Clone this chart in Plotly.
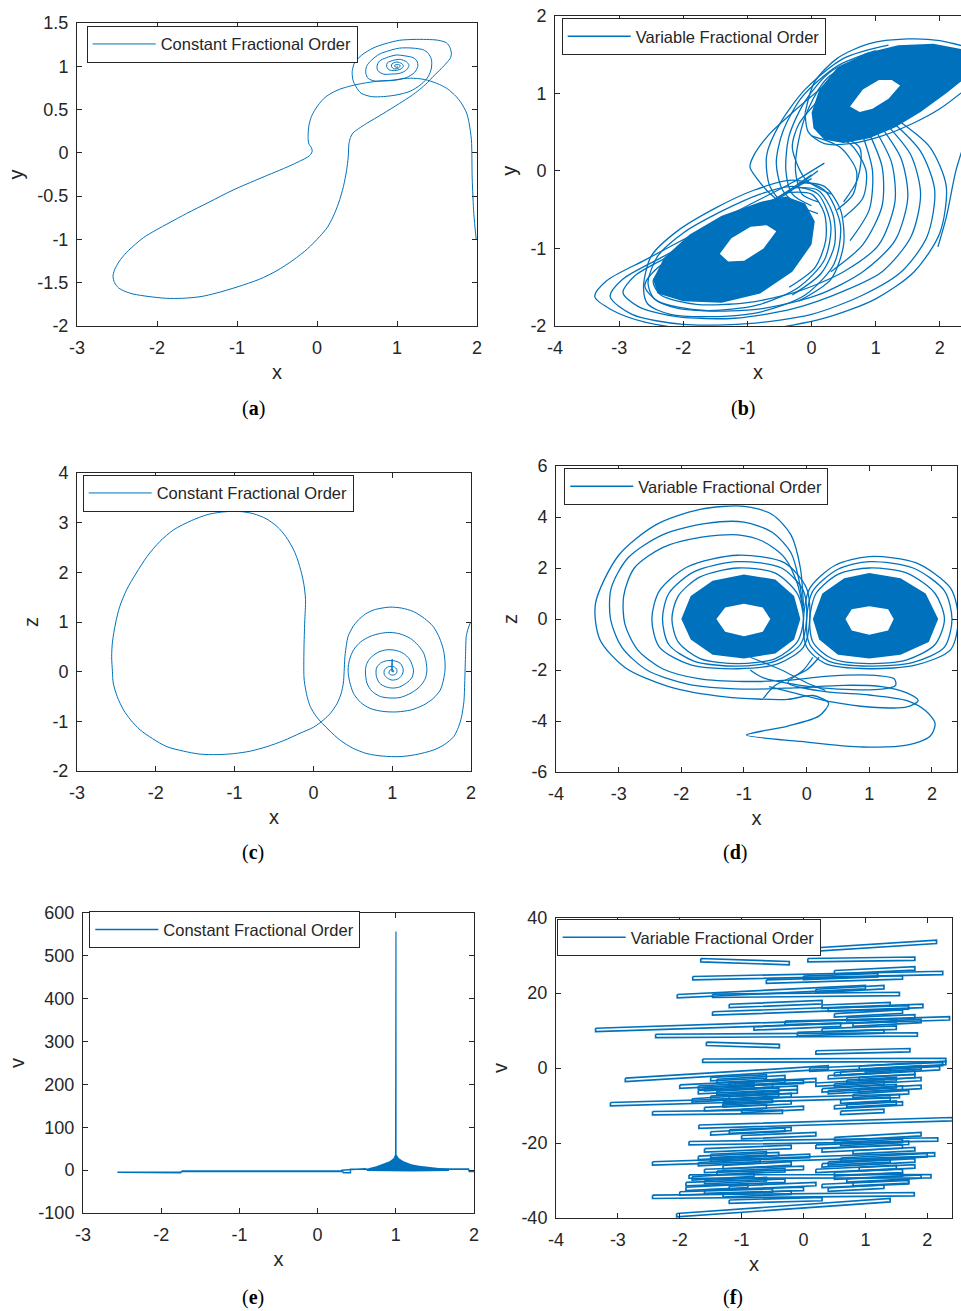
import plotly.graph_objects as go

BLUE = "rgb(0,114,189)"
INK = "#262626"
FONT = "Liberation Sans, Arial, sans-serif"

# ---------------- (a) constant order : x - y ----------------
a_x = [1.99, 1.96, 1.94, 1.93, 1.90, 1.87, 1.80, 1.74, 1.63, 1.53, 1.38, 1.24, 1.10, 0.95, 0.78, 0.62, 0.50, 0.41,
       0.30, 0.20, 0.10, 0.03, -0.03, -0.07, -0.10, -0.11, -0.11, -0.10, -0.07, -0.06, -0.08, -0.12, -0.34, -0.70,
       -1.05, -1.35, -1.63, -1.85, -2.01, -2.17, -2.30, -2.40, -2.47, -2.53, -2.55, -2.53, -2.48, -2.40, -2.30,
       -2.10, -1.88, -1.68, -1.45, -1.26, -1.00, -0.72, -0.50, -0.30, -0.12, 0.03, 0.13, 0.20, 0.27, 0.33, 0.37,
       0.39, 0.40, 0.42, 0.45, 0.52, 0.62, 0.82, 1.03, 1.18, 1.28, 1.38, 1.45, 1.55, 1.62, 1.67, 1.68, 1.66, 1.62,
       1.52, 1.37, 1.20, 1.03, 0.85, 0.70, 0.56, 0.47, 0.44, 0.45, 0.49, 0.55, 0.68, 0.83, 1.00, 1.16, 1.30, 1.39,
       1.43, 1.43, 1.39, 1.33, 1.20, 1.03, 0.90, 0.78, 0.68, 0.62, 0.61, 0.64, 0.72, 0.83, 0.98, 1.12, 1.22, 1.26,
       1.25, 1.20, 1.10, 0.99, 0.87, 0.78, 0.75, 0.76, 0.83, 0.93, 1.04, 1.12, 1.15, 1.12, 1.04, 0.96, 0.88, 0.87,
       0.90, 0.97, 1.05, 1.08, 1.06, 1.00, 0.94, 0.93, 0.96, 1.02, 1.04, 1.01, 0.97, 0.98, 1.01, 1.00]
a_y = [-1.00, -0.70, -0.30, 0.15, 0.35, 0.46, 0.58, 0.65, 0.74, 0.79, 0.84, 0.86, 0.86, 0.84, 0.83, 0.81, 0.79, 0.77,
       0.74, 0.70, 0.64, 0.57, 0.49, 0.42, 0.32, 0.23, 0.15, 0.10, 0.06, 0.02, -0.02, -0.05, -0.15, -0.29,
       -0.43, -0.57, -0.70, -0.81, -0.89, -0.98, -1.08, -1.17, -1.25, -1.35, -1.43, -1.50, -1.56, -1.60, -1.63,
       -1.66, -1.68, -1.68, -1.66, -1.62, -1.55, -1.46, -1.36, -1.24, -1.11, -0.97, -0.86, -0.74, -0.58, -0.39, -0.20,
       -0.05, 0.11, 0.18, 0.23, 0.28, 0.34, 0.45, 0.57, 0.66, 0.73, 0.81, 0.88, 0.97, 1.04, 1.10, 1.15, 1.22, 1.27,
       1.30, 1.31, 1.31, 1.30, 1.26, 1.21, 1.13, 1.04, 0.94, 0.84, 0.76, 0.69, 0.65, 0.65, 0.67, 0.71, 0.79, 0.88,
       0.98, 1.08, 1.15, 1.19, 1.21, 1.21, 1.18, 1.14, 1.07, 1.00, 0.92, 0.86, 0.83, 0.83, 0.84, 0.87, 0.93, 1.00,
       1.06, 1.10, 1.12, 1.13, 1.10, 1.06, 1.00, 0.95, 0.91, 0.91, 0.92, 0.96, 1.01, 1.05, 1.08, 1.07, 1.04, 1.00,
       0.96, 0.95, 0.97, 1.00, 1.03, 1.05, 1.03, 1.00, 0.97, 0.98, 1.01, 1.02, 1.01, 0.99, 0.99, 1.00]

# ---------------- (c) constant order : x - z ----------------
c_x = [1.99, 1.96, 1.94, 1.93, 1.92, 1.91, 1.88, 1.84, 1.78, 1.66, 1.52, 1.30, 1.10, 0.88, 0.68, 0.50, 0.34, 0.20,
       0.04, -0.04, -0.08, -0.11, -0.12, -0.12, -0.11, -0.10, -0.12, -0.15, -0.20, -0.25, -0.35, -0.46, -0.60,
       -0.76, -0.90, -1.01, -1.18, -1.35, -1.55, -1.77, -1.95, -2.11, -2.25, -2.37, -2.46, -2.51, -2.55, -2.56,
       -2.55, -2.54, -2.49, -2.41, -2.32, -2.20, -2.04, -1.86, -1.65, -1.44, -1.22, -1.01, -0.80, -0.59, -0.38,
       -0.17, 0.00, 0.13, 0.22, 0.30, 0.35, 0.38, 0.39, 0.40, 0.42, 0.44, 0.50, 0.57, 0.66, 0.76, 0.87, 0.97, 1.12,
       1.27, 1.41, 1.52, 1.60, 1.65, 1.67, 1.67, 1.65, 1.61, 1.52, 1.40, 1.24, 1.06, 0.88, 0.72, 0.60, 0.51, 0.46,
       0.44, 0.46, 0.51, 0.60, 0.72, 0.85, 0.97, 1.10, 1.23, 1.33, 1.40, 1.43, 1.44, 1.42, 1.35, 1.24, 1.10, 0.97,
       0.85, 0.74, 0.68, 0.66, 0.68, 0.72, 0.82, 0.93, 1.04, 1.14, 1.22, 1.27, 1.25, 1.18, 1.09, 1.00, 0.91, 0.84,
       0.80, 0.80, 0.85, 0.93, 1.02, 1.10, 1.14, 1.13, 1.08, 1.00, 0.94, 0.90, 0.90, 0.95, 1.02, 1.06, 1.05, 1.00,
       0.96, 0.97, 1.01, 1.02, 1.00, 1.00, 1.00]
c_z = [0.98, 0.85, 0.71, 0.30, -0.23, -0.60, -0.91, -1.12, -1.31, -1.47, -1.58, -1.67, -1.71, -1.70, -1.65, -1.54,
       -1.38, -1.18, -0.91, -0.70, -0.50, -0.25, -0.10, 0.44, 1.00, 1.45, 1.75, 1.98, 2.25, 2.45, 2.72, 2.92, 3.08,
       3.18, 3.22, 3.23, 3.21, 3.16, 3.04, 2.86, 2.62, 2.32, 1.98, 1.65, 1.30, 0.98, 0.60, 0.30,
       0.00, -0.23, -0.50, -0.77, -0.97, -1.17, -1.35, -1.51, -1.60, -1.66, -1.67, -1.65, -1.60, -1.51, -1.39,
       -1.24, -1.12, -0.97, -0.83, -0.64, -0.45, -0.23, 0.00, 0.30, 0.55, 0.71, 0.90, 1.04, 1.16, 1.24, 1.28, 1.30,
       1.28, 1.21, 1.07, 0.91, 0.68, 0.44, 0.20, 0.03, -0.17, -0.37, -0.54, -0.67, -0.77, -0.81, -0.80, -0.74,
       -0.62, -0.44, -0.20, 0.03, 0.25, 0.44, 0.60, 0.71, 0.77, 0.79, 0.76, 0.67, 0.53, 0.37, 0.20, 0.03, -0.14,
       -0.30, -0.43, -0.52, -0.53, -0.50, -0.39, -0.23, 0.03, 0.17, 0.27, 0.39, 0.44, 0.43, 0.37, 0.25, 0.03,
       -0.12, -0.23, -0.31, -0.33, -0.30, -0.23, -0.10, 0.07, 0.17, 0.22, 0.22, 0.17, 0.05, -0.05, -0.14, -0.17,
       -0.13, -0.06, 0.03, 0.10, 0.10, 0.04, -0.04, -0.07, -0.04, 0.03, 0.04, 0.00, 0.00, 0.25, 0.00]

# ---------------- (e) constant order : x - v ----------------
e_x = [2.00, 1.94, 1.93, 1.66, 1.30, 0.90, 0.60, 0.42, 0.42, 0.33, 0.32, -1.00, -1.74, -1.75, -2.55, -2.56,
       -1.75, -1.73, -0.50, 0.30, 0.31, 0.42, 0.44, 0.62]
e_v = [-3, -3, 2.5, 2.5, 3, 3, 2.5, 2, -6, -6, -3, -3, -3, -6, -6, -5,
       -4.5, -2, -2, -2, 0, 0, 1.5, 3]
e_band_x = [0.62, 0.66, 0.75, 0.85, 0.92, 0.97, 0.99, 1.01, 1.04, 1.10, 1.20, 1.30, 1.42, 1.55, 1.68, 1.68, 1.20, 0.62]
e_band_v = [-2, 5, 9, 15, 21, 28, 36, 36, 28, 21, 14, 10, 7, 5, 3, -2, -3, -2]
e_spike_x = [0.997, 0.998, 1.002, 1.003]
e_spike_v = [30, 557, 557, 30]

# ---------------- (b) variable order : x - y ----------------
b_up_outer_x = [0.00, 0.12, 0.40, 0.85, 1.35, 1.90, 2.40, 2.40, 2.10, 1.70, 1.30, 0.90, 0.50, 0.20, 0.03]
b_up_outer_y = [0.75, 1.05, 1.33, 1.52, 1.62, 1.64, 1.56, 1.20, 1.00, 0.76, 0.56, 0.42, 0.36, 0.40, 0.55]
b_up_hole_x = [1.38, 1.25, 1.05, 0.80, 0.60, 0.75, 0.95, 1.20]
b_up_hole_y = [1.10, 1.17, 1.17, 1.05, 0.83, 0.76, 0.80, 0.93]
b_lo_outer_x = [-2.47, -2.30, -1.90, -1.40, -0.80, -0.40, -0.10, 0.05, 0.00, -0.30, -0.80, -1.40, -2.00, -2.40]
b_lo_outer_y = [-1.40, -1.12, -0.82, -0.58, -0.40, -0.33, -0.42, -0.65, -0.95, -1.30, -1.58, -1.70, -1.68, -1.58]
b_lo_hole_x = [-0.55, -0.70, -0.95, -1.25, -1.43, -1.30, -1.05, -0.75]
b_lo_hole_y = [-0.78, -0.70, -0.72, -0.87, -1.07, -1.17, -1.16, -1.00]
b_paths_x = [
    [1.97, 2.10, 2.25, 2.40],
    [1.40, 1.85, 2.10, 2.00, 1.60, 1.00, 0.20, -0.80, -1.80, -2.60, -3.10, -3.38, -3.20, -2.60, -1.80, -1.00, -0.30, 0.20],
    [1.30, 1.70, 1.92, 1.80, 1.40, 0.80, 0.00, -1.00, -2.00, -2.80, -3.14, -2.95, -2.30, -1.50, -0.70, 0.00],
    [1.20, 1.55, 1.70, 1.55, 1.10, 0.50, -0.30, -1.20, -2.10, -2.70, -2.94, -2.75, -2.10, -1.40, -0.60, 0.00],
    [1.10, 1.40, 1.50, 1.30, 0.80, 0.10, -0.80, -1.70, -2.40, -2.60, -2.40, -1.80, -1.10, -0.40, 0.10],
    [1.00, 1.25, 1.30, 1.05, 0.50, -0.20, -1.00, -1.80, -2.35, -2.47, -2.25],
    [0.90, 1.10, 1.10, 0.80, 0.30],
    [0.80, 0.95, 0.90, 0.60],
    [1.20, 0.50, -0.10, -0.50, -0.70, -0.65, -0.40, -0.10],
    [1.00, 0.40, -0.15, -0.45, -0.55, -0.45, -0.20, 0.10],
    [0.90, 0.30, -0.10, -0.35, -0.40, -0.30, 0.00],
    [0.80, 0.25, -0.05, -0.20, -0.25, -0.15, 0.10],
    [0.20, -0.30, -0.65, -0.90, -0.96, -0.85, -0.70, -0.50],
    [0.50, 0.10, -0.20, -0.30, -0.10, 0.30],
    [0.00, 0.45, 0.70, 0.65, 0.40],
    [0.10, 0.60, 0.85, 0.80, 0.50],
    [0.30, 0.75, 0.72, 0.50],
    [-0.40, 0.00, 0.20, 0.22, 0.05, -0.35],
    [-0.30, 0.10, 0.33, 0.36, 0.15, -0.30],
    [-0.20, 0.20, 0.45, 0.50, 0.30, -0.20],
    [-2.55, -2.40, -2.00, -1.40, -0.80, -0.30, 0.10, 0.30, 0.20, -0.20, -0.80, -1.50, -2.10, -2.45, -2.55],
    [-2.62, -2.50, -2.10, -1.50, -0.90, -0.30, 0.20, 0.45, 0.35, -0.10, -0.80, -1.60, -2.20, -2.55, -2.62],
    [-0.10, 0.05, 0.40, 0.90, 1.50, 2.00, 2.40],
    [2.40, 2.00, 1.60, 1.10, 0.60, 0.20, -0.05, -0.10],
]
b_paths_y = [
    [-0.98, -0.60, 0.00, 0.40],
    [0.62, 0.30, -0.20, -0.80, -1.30, -1.65, -1.90, -2.05, -2.05, -1.95, -1.80, -1.62, -1.42, -1.15, -0.80, -0.45, -0.15, 0.10],
    [0.60, 0.25, -0.25, -0.85, -1.30, -1.60, -1.85, -1.97, -1.98, -1.85, -1.62, -1.40, -1.10, -0.75, -0.42, -0.10],
    [0.57, 0.20, -0.30, -0.85, -1.30, -1.55, -1.78, -1.90, -1.88, -1.75, -1.57, -1.35, -1.05, -0.72, -0.38, -0.05],
    [0.55, 0.15, -0.35, -0.90, -1.30, -1.60, -1.78, -1.80, -1.68, -1.48, -1.25, -0.95, -0.62, -0.30, 0.00],
    [0.52, 0.10, -0.40, -0.95, -1.30, -1.55, -1.70, -1.72, -1.60, -1.42, -1.20],
    [0.48, 0.05, -0.45, -0.95, -1.30],
    [0.45, 0.00, -0.50, -0.90],
    [1.62, 1.45, 1.05, 0.60, 0.20, -0.20, -0.45, -0.60],
    [1.55, 1.35, 0.95, 0.50, 0.10, -0.25, -0.45, -0.55],
    [1.50, 1.28, 0.90, 0.45, 0.00, -0.30, -0.45],
    [1.45, 1.20, 0.80, 0.40, 0.00, -0.30, -0.40],
    [1.10, 0.75, 0.48, 0.20, 0.05, -0.10, -0.25, -0.40],
    [1.20, 0.90, 0.60, 0.30, -0.10, -0.30],
    [0.45, 0.30, 0.00, -0.30, -0.50],
    [0.50, 0.35, 0.00, -0.35, -0.60],
    [0.50, 0.30, -0.10, -0.40],
    [-0.28, -0.30, -0.55, -0.90, -1.25, -1.50],
    [-0.22, -0.25, -0.55, -0.95, -1.32, -1.60],
    [-0.15, -0.20, -0.50, -0.95, -1.40, -1.68],
    [-1.45, -1.10, -0.80, -0.52, -0.30, -0.20, -0.30, -0.70, -1.15, -1.50, -1.72, -1.80, -1.77, -1.65, -1.45],
    [-1.50, -1.10, -0.78, -0.48, -0.25, -0.12, -0.25, -0.70, -1.20, -1.60, -1.82, -1.88, -1.85, -1.72, -1.50],
    [0.75, 1.15, 1.45, 1.64, 1.70, 1.68, 1.60],
    [1.05, 0.80, 0.62, 0.45, 0.35, 0.35, 0.50, 0.75],
]

# ---------------- (d) variable order : x - z ----------------
d_left_outer_x = [-2.00, -1.85, -1.50, -1.00, -0.50, -0.20, -0.10, -0.20, -0.50, -1.00, -1.50, -1.85]
d_left_outer_z = [0.00, 0.90, 1.50, 1.75, 1.55, 0.90, 0.00, -0.80, -1.35, -1.55, -1.40, -0.80]
d_left_hole_x = [-0.58, -0.70, -1.00, -1.30, -1.44, -1.30, -1.00, -0.70]
d_left_hole_z = [0.00, 0.45, 0.60, 0.45, 0.00, -0.50, -0.68, -0.50]
d_right_outer_x = [0.10, 0.25, 0.60, 1.00, 1.50, 1.90, 2.10, 1.95, 1.50, 1.00, 0.50, 0.20]
d_right_outer_z = [0.00, 1.00, 1.60, 1.80, 1.60, 1.00, 0.00, -0.90, -1.40, -1.55, -1.40, -0.80]
d_right_hole_x = [1.39, 1.30, 1.00, 0.72, 0.62, 0.72, 1.00, 1.30]
d_right_hole_z = [0.00, 0.38, 0.50, 0.38, 0.00, -0.45, -0.62, -0.45]
d_paths_x = [
    [-2.15, -2.05, -1.70, -1.10, -0.50, -0.15, -0.05, -0.15, -0.50, -1.10, -1.70, -2.05, -2.15],
    [-2.30, -2.20, -1.80, -1.10, -0.40, -0.05, 0.00, -0.10, -0.50, -1.10, -1.80, -2.20, -2.30],
    [-2.47, -2.35, -1.90, -1.10, -0.35, 0.00, 0.05, -0.05, -0.45, -1.10, -1.85, -2.35, -2.47],
    [0.05, 0.15, 0.50, 1.00, 1.60, 2.05, 2.20, 2.05, 1.60, 1.00, 0.40, 0.10, 0.05],
    [0.00, 0.10, 0.50, 1.00, 1.70, 2.20, 2.32, 2.20, 1.70, 1.00, 0.35, 0.05, 0.00],
    [-0.05, 0.05, 0.45, 1.00, 1.75, 2.30, 2.42, 2.30, 1.75, 1.00, 0.30, 0.00, -0.05],
    [-0.05, -0.10, -0.25, -0.55, -1.00, -1.70, -2.40, -3.00, -3.37, -3.30, -2.90, -2.20, -1.30, -0.30, 0.10,
     0.35, 0.20, -0.30, -0.96, -0.10, 0.90, 1.60, 1.97, 2.05, 1.90, 1.60, 1.00, 0.30, -0.30, -0.05, 0.10],
    [-0.05, -0.12, -0.25, -0.55, -1.00, -1.60, -2.30, -2.85, -3.12, -3.13, -2.95, -2.55, -1.90, -1.00, -0.20,
     0.60, 1.20, 1.60, 1.78, 1.60, 1.00, 0.40, -0.20, -0.60],
    [-0.05, -0.15, -0.35, -0.70, -1.10, -1.70, -2.30, -2.75, -2.92, -2.90, -2.70, -2.30, -1.70, -1.00, -0.30,
     0.30, 1.00, 1.40, 1.42, 1.20, 0.50, -0.10, -0.70, -0.90],
    [-0.90, -0.40, 0.00, 0.30],
    [0.20, 0.00, -0.50, -0.69],
]
d_paths_z = [
    [0.00, 0.90, 1.65, 2.00, 1.80, 1.00, 0.00, -0.90, -1.55, -1.75, -1.55, -0.90, 0.00],
    [0.00, 1.00, 1.85, 2.25, 2.00, 1.10, 0.00, -1.00, -1.65, -1.85, -1.65, -1.00, 0.00],
    [0.00, 1.10, 2.05, 2.50, 2.20, 1.20, 0.00, -1.10, -1.75, -1.95, -1.80, -1.10, 0.00],
    [0.00, 1.00, 1.75, 2.00, 1.80, 1.00, 0.00, -1.00, -1.60, -1.75, -1.55, -0.90, 0.00],
    [0.00, 1.10, 1.95, 2.25, 2.00, 1.10, 0.00, -1.10, -1.70, -1.85, -1.65, -1.00, 0.00],
    [0.00, 1.20, 2.10, 2.45, 2.20, 1.20, 0.00, -1.20, -1.80, -1.95, -1.75, -1.10, 0.00],
    [0.50, 2.00, 3.30, 4.10, 4.42, 4.30, 3.70, 2.50, 0.60, -0.80, -1.90, -2.65, -3.05, -3.15, -3.00,
     -3.30, -3.80, -4.20, -4.55, -4.80, -5.02, -4.95, -4.60, -4.10, -3.60, -3.20, -2.98, -2.85, -2.50, -2.00, -1.50],
    [0.30, 1.50, 2.60, 3.40, 3.80, 3.75, 3.30, 2.40, 1.20, 0.00, -1.10, -2.00, -2.55, -2.75, -2.70,
     -2.60, -2.65, -2.90, -3.20, -3.45, -3.45, -3.25, -2.90, -2.65],
    [0.30, 1.40, 2.40, 3.05, 3.30, 3.20, 2.80, 2.00, 0.90, -0.20, -1.20, -1.95, -2.35, -2.45, -2.40,
     -2.25, -2.20, -2.35, -2.60, -2.75, -2.75, -2.60, -2.30, -2.00],
    [-1.50, -2.00, -2.50, -2.80],
    [-1.50, -2.00, -2.60, -3.11],
]

# ---------------- (f) variable order : x - v (hairpin strokes) ----------------
f_xl = [-0.80, 0.07, -1.66, -1.79, -0.60, -2.04, -1.47, -1.47, 0.40, -3.36, -0.30, -2.39, -0.10, -1.57, 0.20, -1.63,
        -2.88, 0.10, 0.50, -2.00, -1.70, 0.20, 0.40, -1.50, -3.12, -1.30, 0.50, -2.44, 0.60, -1.69, -1.50, -1.85,
        0.20, -1.60, -2.44, -1.50, 0.30, -1.85, -1.60, 0.50, -1.90, 0.30, -2.44, -1.60, -1.20, -2.05,
        -1.40, -1.20, -1.60, -1.00, -1.80, -1.30, 0.40, 0.70, 0.30, 0.80, 0.60, 0.90,
        -1.70, -1.30, -1.80, -1.20, -2.00, 0.50, 0.30, 0.60, 0.20, 0.70, 0.40,
        0.50, 0.80, -0.80, 0.30, -1.20, 0.20, 0.50,
        -1.50, -1.10, -1.70, -1.40, -1.20, -1.60, -1.00, 0.60, 0.90, 0.50, 0.90, 0.70, 1.00,
        -1.50, -1.70, -1.40, -1.60, -1.90, -1.30, 0.60, 0.80, 0.40, 0.90, 0.50, 0.80,
        -1.20, -1.00, 0.30, 0.70, 0.00]
f_vl = [31.0, 29.2, 29.2, 24.4, 23.5, 19.6, 19.7, 15.0, 16.0, 10.6, 12.5, 9.0, 9.5, 6.9, 4.6, 2.4,
        -2.7, 0.0, -1.2, -4.5, -6.0, -4.0, -6.0, -7.5, -9.2, -9.5, -10.0, -11.6, -11.5, -15.2, -17.0, -19.6,
        -20.5, -21.5, -25.0, -24.0, -25.5, -28.5, -27.0, -27.8, -30.5, -31.0, -33.9, -32.5, -35.2, -38.8,
        -3.0, -4.0, -5.2, -6.5, -8.2, -9.0, -2.0, -3.2, -5.5, -7.0, -8.5, 0.5,
        -23.5, -26.0, -29.0, -31.5, -33.0, -18.5, -21.5, -24.0, -27.0, -29.5, -32.0,
        14.5, 12.0, 11.0, 10.5, 17.0, 21.0, 26.0,
        -2.5, -3.8, -4.8, -6.2, -7.6, -10.5, -11.0, -1.0, -2.5, -4.2, -5.5, -9.5, -0.2,
        -23.0, -25.2, -27.5, -30.0, -31.8, -33.5, -19.8, -22.0, -25.0, -26.5, -28.8, -30.5,
        -16.5, -18.0, 16.8, 13.5, 24.5]
f_xr = [2.15, 1.80, -0.23, 2.25, 1.60, 1.00, 1.55, 1.93, 1.70, 2.36, 1.50, 1.84, 1.30, -0.39, 1.72, 2.30,
        0.40, 2.25, 2.20, 0.20, -0.10, 1.90, 1.60, -0.40, 1.55, -0.20, 1.60, -0.34, 1.30, 2.41, -0.30, 2.17,
        1.70, -0.20, 2.12, 0.10, 1.80, 2.06, 0.00, 1.60, -0.30, 1.70, 1.79, 0.00, 0.30, 1.40,
        -0.30, 0.00, -0.50, -0.10, -0.60, -0.50, 1.80, 1.50, 1.50, 1.70, 1.40, 2.30,
        -0.40, -0.20, -0.80, 0.20, -0.50, 1.90, 1.60, 2.00, 1.50, 1.90, 1.30,
        1.60, 1.90, 0.60, 1.50, 0.30, 1.30, 1.80,
        -0.60, -0.30, -0.80, -0.40, -0.20, -0.60, 0.00, 1.40, 1.80, 1.30, 1.90, 1.50, 1.90,
        -0.60, -0.70, -0.30, -0.60, -0.90, -0.20, 1.60, 1.80, 1.40, 1.80, 1.60, 1.70,
        -0.20, 0.20, 1.40, 1.80, 1.20]
f_vr = [34.1, 29.6, 28.4, 25.8, 24.6, 22.0, 20.2, 17.0, 16.6, 13.7, 13.2, 9.4, 10.2, 6.3, 5.2, 2.6,
        0.6, 1.5, 0.4, -2.8, -4.8, -2.5, -4.8, -6.6, -7.0, -8.7, -9.0, -11.2, -11.0, -13.2, -16.0, -18.6,
        -19.5, -20.6, -22.6, -23.0, -24.2, -28.4, -26.2, -27.0, -29.6, -30.0, -33.2, -31.8, -34.5, -34.8,
        -2.0, -3.2, -4.2, -5.8, -7.0, -8.3, -0.8, -2.5, -4.4, -6.0, -7.8, 1.8,
        -22.5, -25.0, -28.0, -30.5, -32.2, -17.2, -20.5, -22.8, -26.0, -28.5, -31.2,
        15.5, 13.0, 12.0, 11.2, 18.0, 22.0, 27.0,
        -1.8, -3.0, -4.0, -5.3, -6.8, -9.8, -10.2, -0.3, -1.7, -3.5, -4.6, -8.8, 0.6,
        -22.3, -24.4, -26.8, -29.2, -31.0, -32.8, -19.0, -21.2, -24.2, -25.8, -28.0, -29.8,
        -15.8, -17.2, 17.5, 14.2, 25.2]
F_GAP = 0.9  # vertical separation of the two strands of each hairpin


def join(paths_x, paths_y):
    xs, ys = [], []
    for px, py in zip(paths_x, paths_y):
        xs += list(px) + [None]
        ys += list(py) + [None]
    return xs, ys


def annulus(ox, oy, hx, hy):
    return (list(ox) + [ox[0]] + list(hx) + [hx[0], ox[0]],
            list(oy) + [oy[0]] + list(hy) + [hy[0], oy[0]])


def hairpins(xl, vl, xr, vr):
    xs, vs = [], []
    for a, b, c, d in zip(xl, vl, xr, vr):
        xs += [a, c, c, a, a, None]
        vs += [b, d, d - F_GAP, b - F_GAP, b, None]
    return xs, vs


fig = go.Figure()


def line(x, y, xa, ya, leg, name=None, width=1.0, show=False, shape="linear"):
    fig.add_trace(go.Scatter(x=x, y=y, mode="lines", xaxis=xa, yaxis=ya,
                             line=dict(color=BLUE, width=width, shape=shape, smoothing=0.8),
                             name=name or "", showlegend=show, legend=leg,
                             hoverinfo="skip", connectgaps=False))


def blob(x, y, xa, ya, shape="linear"):
    fig.add_trace(go.Scatter(x=x, y=y, mode="lines", xaxis=xa, yaxis=ya, fill="toself",
                             fillcolor=BLUE, line=dict(color=BLUE, width=0, shape=shape, smoothing=0.8),
                             showlegend=False, hoverinfo="skip"))


# (a)
line(a_x, a_y, "x", "y", "legend", "Constant Fractional Order", 1.0, True, "spline")
# (b)
bx, by = annulus(b_up_outer_x, b_up_outer_y, b_up_hole_x, b_up_hole_y)
blob(bx, by, "x2", "y2")
bx, by = annulus(b_lo_outer_x, b_lo_outer_y, b_lo_hole_x, b_lo_hole_y)
blob(bx, by, "x2", "y2")
bx, by = join(b_paths_x, b_paths_y)
line(bx, by, "x2", "y2", "legend2", "Variable Fractional Order", 1.3, True, "spline")
# (c)
line(c_x, c_z, "x3", "y3", "legend3", "Constant Fractional Order", 1.0, True, "spline")
# (d)
dx, dz = annulus(d_left_outer_x, d_left_outer_z, d_left_hole_x, d_left_hole_z)
blob(dx, dz, "x4", "y4")
dx, dz = annulus(d_right_outer_x, d_right_outer_z, d_right_hole_x, d_right_hole_z)
blob(dx, dz, "x4", "y4")
dx, dz = join(d_paths_x, d_paths_z)
line(dx, dz, "x4", "y4", "legend4", "Variable Fractional Order", 1.3, True, "spline")
# (e)
blob(e_band_x, e_band_v, "x5", "y5")
line(e_spike_x, e_spike_v, "x5", "y5", "legend5", None, 1.2, False)
line(e_x, e_v, "x5", "y5", "legend5", "Constant Fractional Order", 1.5, True)
# (f)
fx, fv = hairpins(f_xl, f_vl, f_xr, f_vr)
line(fx, fv, "x6", "y6", "legend6", "Variable Fractional Order", 1.7, True)

# the page body margin is removed by a post-script, so the figure sits at the window origin
W, H = 961, 1311


def dom(p0, p1, total, flip=False):
    if flip:
        return [max(0.0, 1 - p1 / total), min(1.0, 1 - p0 / total)]
    return [max(0.0, p0 / total), min(1.0, p1 / total)]


def fmt(v):
    return "%g" % v


panels = [
    ((77, 477), (23, 326), [-3, 2], [-2, 1.5], [-3, -2, -1, 0, 1, 2], [-2, -1.5, -1, -0.5, 0, 0.5, 1, 1.5], "y", True),
    ((555, 961), (15.7, 326), [-4, 2.33], [-2, 2], [-4, -3, -2, -1, 0, 1, 2], [-2, -1, 0, 1, 2], "y", False),
    ((77, 471), (473, 771), [-3, 2], [-2, 4], [-3, -2, -1, 0, 1, 2], [-2, -1, 0, 1, 2, 3, 4], "z", True),
    ((556, 957), (466, 772), [-4, 2.4], [-6, 6], [-4, -3, -2, -1, 0, 1, 2], [-6, -4, -2, 0, 2, 4, 6], "z", True),
    ((83, 474), (913, 1213), [-3, 2], [-100, 600], [-3, -2, -1, 0, 1, 2], [-100, 0, 100, 200, 300, 400, 500, 600], "v", True),
    ((556, 952), (918, 1218), [-4, 2.4], [-40, 40], [-4, -3, -2, -1, 0, 1, 2], [-40, -20, 0, 20, 40], "v", True),
]

layout = dict(width=W, height=H, margin=dict(l=0, r=0, t=0, b=0, autoexpand=False),
              paper_bgcolor="white", plot_bgcolor="white",
              font=dict(family=FONT, color=INK, size=16), showlegend=True)

for i, (xd, yd, xr, yr, xt, yt, ylab, ymir) in enumerate(panels):
    n = "" if i == 0 else str(i + 1)
    layout["xaxis" + n] = dict(domain=dom(xd[0], xd[1], W), range=xr, anchor="y" + n, automargin=False,
                               tickvals=xt, ticktext=[fmt(v) for v in xt], ticklabeloverflow="allow",
                               ticks="inside", ticklen=5, tickcolor=INK, tickwidth=1,
                               showline=True, linecolor=INK, linewidth=1, mirror="ticks",
                               showgrid=False, zeroline=False, ticklabelstandoff=5,
                               tickfont=dict(size=18, color=INK, family=FONT),
                               title=dict(text="x", font=dict(size=20, color=INK, family=FONT), standoff=8))
    layout["yaxis" + n] = dict(domain=dom(yd[0], yd[1], H, True), range=yr, anchor="x" + n, automargin=False,
                               tickvals=yt, ticktext=[fmt(v) for v in yt], ticklabeloverflow="allow",
                               ticks="inside", ticklen=5, tickcolor=INK, tickwidth=1,
                               showline=True, linecolor=INK, linewidth=1,
                               mirror="ticks" if ymir else False,
                               showgrid=False, zeroline=False, ticklabelstandoff=4,
                               tickfont=dict(size=18, color=INK, family=FONT),
                               title=dict(text=ylab, font=dict(size=20, color=INK, family=FONT), standoff=8))

legend_pos = [(86.7, 31.7), (561.7, 24), (82.7, 480.7), (564.3, 474), (89.3, 917.3), (556.7, 925)]
for i, (lx, ly) in enumerate(legend_pos):
    n = "legend" if i == 0 else "legend%d" % (i + 1)
    layout[n] = dict(x=lx / W, y=1 - (ly - 6) / H, xanchor="left", yanchor="top",
                     bgcolor="white", bordercolor=INK, borderwidth=1,
                     font=dict(size=16.5, color=INK, family=FONT), itemwidth=63,
                     tracegroupgap=0)

captions = [("a", 253, 408), ("b", 743, 408), ("c", 253, 852), ("d", 735, 852), ("e", 253, 1297), ("f", 733, 1297)]
layout["annotations"] = [dict(text="(<b>%s</b>)" % t, x=cx / W, y=1 - cy / H,
                              xref="paper", yref="paper",
                              showarrow=False, xanchor="center", yanchor="middle",
                              font=dict(family="Liberation Serif, DejaVu Serif, serif", size=20, color="black"))
                         for t, cx, cy in captions]

fig.update_layout(**layout)
fig.write_html("out.html", config={"displayModeBar": False},
               post_script="document.body.style.margin='0px';document.body.style.overflow='hidden';")
